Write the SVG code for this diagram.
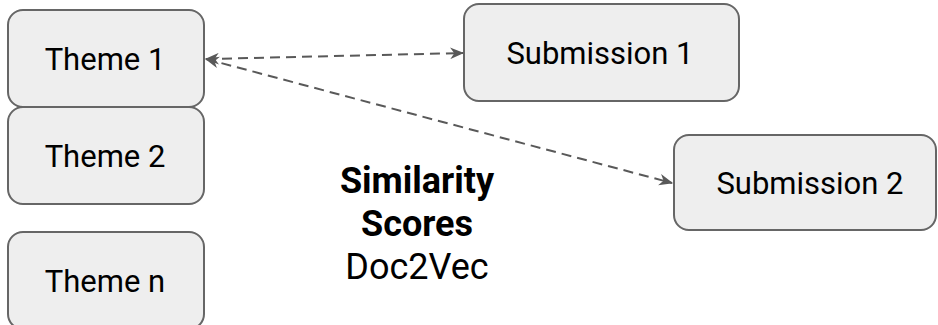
<svg xmlns="http://www.w3.org/2000/svg" width="938" height="325" viewBox="0 0 938 325">
<style>
.box{fill:#eeeeee;stroke:#666666;stroke-width:2}
.lbl{font-family:Roboto,"Liberation Sans",sans-serif;font-size:31px;fill:#000;text-anchor:middle}
.conn{fill:none;stroke:#595959;stroke-width:2;stroke-dasharray:10 6}
.ctr{font-family:Roboto,"Liberation Sans",sans-serif;font-size:36px;fill:#000;text-anchor:middle}
</style>
<defs>
<marker id="ah" viewBox="0 0 12 10" refX="11" refY="5" markerWidth="14" markerHeight="12" markerUnits="userSpaceOnUse" orient="auto-start-reverse">
<path d="M0,0 L12,5 L0,10 L3.5,5 z" fill="#595959"/>
</marker>
</defs>
<rect width="938" height="325" fill="#ffffff"/>
<g id="theme1"><rect class="box" x="8" y="10" width="196" height="97" rx="15"/><text class="lbl" x="105" y="70">Theme 1</text></g>
<g id="theme2"><rect class="box" x="8" y="107" width="196" height="97" rx="15"/><text class="lbl" x="105" y="167">Theme 2</text></g>
<g id="themen"><rect class="box" x="8" y="232" width="196" height="97" rx="15"/><text class="lbl" x="105" y="292">Theme n</text></g>
<g id="sub1"><rect class="box" x="464" y="4" width="275" height="97" rx="15"/><text class="lbl" x="600" y="64">Submission 1</text></g>
<g id="sub2"><rect class="box" x="674" y="135" width="262" height="95" rx="15"/><text class="lbl" x="810" y="194" font-size="32">Submission 2</text></g>
<g id="connectors">
<line class="conn" x1="206" y1="59" x2="463" y2="53" marker-start="url(#ah)" marker-end="url(#ah)"/>
<line class="conn" x1="206" y1="59" x2="672" y2="183" marker-start="url(#ah)" marker-end="url(#ah)"/>
</g>
<g id="center">
<text class="ctr" x="417" y="193" font-weight="bold">Similarity</text>
<text class="ctr" x="417" y="236" font-weight="bold">Scores</text>
<text class="ctr" x="417" y="279">Doc2Vec</text>
</g>
</svg>
